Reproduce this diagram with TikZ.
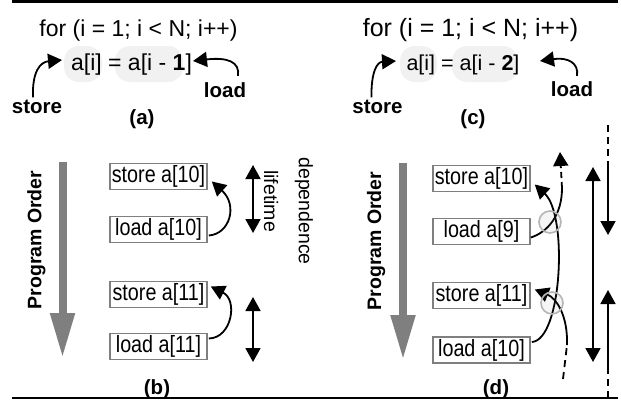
\documentclass[tikz,border=0pt]{standalone}
\usepackage{fontspec}
\setmainfont{Liberation Sans}
\newfontfamily\boxfont[FakeStretch=0.84]{Liberation Sans}
\usetikzlibrary{arrows.meta,calc}
\definecolor{boxgray}{HTML}{7F7F7F}
\definecolor{hlgray}{HTML}{F1F1F1}
\definecolor{ringgray}{HTML}{B5B5B5}
\begin{document}
\begin{tikzpicture}[x=1pt,y=-1pt,
  code/.style={font=\fontsize{23}{27}\selectfont, inner sep=0pt, anchor=base},
  lbl/.style={font=\bfseries\fontsize{20.5}{23}\selectfont, inner sep=0pt, anchor=base},
  plain/.style={font=\fontsize{19.5}{22}\selectfont, inner sep=0pt},
  instr/.style={draw=boxgray, line width=1.6pt, minimum width=97pt, minimum height=26pt, inner sep=0pt, font=\boxfont\fontsize{23.5}{26}\selectfont},
  conn/.style={line width=1.8pt, -{Triangle[length=14pt,width=15pt]}},
  life/.style={line width=1.8pt, {Triangle[length=14pt,width=15pt]}-{Triangle[length=14pt,width=15pt]}},
  porder/.style={line width=8pt, draw=boxgray, -{Triangle[length=45pt,width=23pt]}},
  blob/.style={fill=hlgray, rounded corners=15pt},
  ring/.style={draw=ringgray, line width=1.6pt, fill=gray, fill opacity=0.08},
  dashln/.style={line width=1.8pt, dash pattern=on 7pt off 5pt},
]
\useasboundingbox (0,0) rectangle (621,402);
% rules
\draw[line width=2.5pt] (12,1.5) -- (618,1.5);
\draw[line width=2pt] (12,398) -- (618,398);

% ---------- panel (a)
\fill[blob] (64,46) rectangle (102,82);
\fill[blob] (115,46) rectangle (183,82);
\node[code] (forA) at (138.5,36) {for (i = 1; i < N; i++)};
\node[code] (stmtA) at (131.5,70) {a[i] = a[i - \textbf{1}]};
\node[lbl] (storeA) at (37,113) {store};
\node[lbl] (loadA) at (225,97) {load};
\node[lbl] (capA) at (142,124) {(a)};
\coordinate (stA) at (62,60);
\coordinate (ldA) at (193,61);
\draw[conn] ($(storeA.north)+(-4,-2)$) .. controls (32,72) and (40,62) .. (stA);
\draw[conn] ($(loadA.north)+(13,-6)$) .. controls (240,62) and (228,57) .. (ldA);

% ---------- panel (c)
\fill[blob] (400,46) rectangle (437,82);
\fill[blob] (452,46) rectangle (518,82);
\node[code, font=\fontsize{25}{29}\selectfont] (forC) at (470.5,36) {for (i = 1; i < N; i++)};
\node[code, font=\fontsize{21.5}{26}\selectfont] (stmtC) at (463,70) {a[i] = a[i - \textbf{2}]};
\node[lbl] (storeC) at (377.5,113) {store};
\node[lbl] (loadC) at (572,96) {load};
\node[lbl] (capC) at (473,124) {(c)};
\coordinate (stC) at (396,61);
\coordinate (ldC) at (540,61);
\draw[conn] ($(storeC.north)+(-6,-2)$) .. controls (371,72) and (377,62) .. (stC);
\draw[conn] ($(loadC.north)+(5,-5)$) .. controls (579,63) and (568,57) .. (ldC);

% ---------- panel (b)
\node[lbl, font=\bfseries\fontsize{19.5}{22}\selectfont, rotate=90, anchor=center] (poB) at (36.5,240) {Program Order};
\coordinate (poBtop) at (62.5,162);
\coordinate (poBbot) at (62.5,358);
\draw[porder] (poBtop) -- (poBbot);
\node[instr] (s10b) at (158.5,176.5) {store a[10]};
\node[instr] (l10b) at (158.5,229.5) {load a[10]};
\node[instr] (s11b) at (158.5,294.5) {store a[11]};
\node[instr] (l11b) at (158.5,346.5) {load a[11]};
\draw[conn] ($(l10b.east)+(1,6)$) .. controls (230,234) and (238,205) .. ($(s10b.east)+(4,5)$);
\draw[conn] ($(l11b.east)+(1,-8)$) .. controls (232,338) and (238,300) .. ($(s11b.east)+(3,-8)$);
\coordinate (lt1a) at (253,165);
\coordinate (lt1b) at (253,233);
\coordinate (lt2a) at (253,297);
\coordinate (lt2b) at (253,362);
\draw[life] (lt1a) -- (lt1b);
\draw[life] (lt2a) -- (lt2b);
\node[plain, rotate=-90] (lifeT) at (271,201) {lifetime};
\node[plain, rotate=-90] (depT) at (304,211) {dependence};
\node[lbl] (capB) at (157,394) {(b)};

% ---------- panel (d)
\node[lbl, font=\bfseries\fontsize{19.5}{22}\selectfont, rotate=90, anchor=center] (poD) at (376,241) {Program Order};
\coordinate (poDtop) at (403,163);
\coordinate (poDbot) at (403,360);
\draw[porder] (poDtop) -- (poDbot);
\node[instr] (s10d) at (481.5,178.5) {store a[10]};
\node[instr] (l9d) at (481.5,231.5) {load a[9]};
\node[instr] (s11d) at (481.5,295.5) {store a[11]};
\node[instr] (l10d) at (481.5,350) {load a[10]};
\draw[conn] ($(l10d.east)+(1,-8)$) .. controls (562,340) and (568,215) .. ($(s10d.east)+(4,6)$);
\coordinate (d9end) at (562,188);
\coordinate (d9tip) at (560,152);
\draw[line width=1.8pt] ($(l9d.east)+(0,6)$) .. controls (548,232) and (562,215) .. (d9end);
\draw[conn, dash pattern=on 6pt off 4pt] (d9end) -- (d9tip);
\coordinate (d11low) at (563,379);
\coordinate (d11mid) at (567,345);
\draw[dashln] (d11low) -- (d11mid);
\draw[conn] (d11mid) .. controls (568,315) and (556,298) .. ($(s11d.east)+(4,-6)$);
\draw[ring] (550,222) circle[radius=11pt];
\draw[ring] (552,303) circle[radius=11pt];
\coordinate (bigA) at (593,167);
\coordinate (bigB) at (593,362);
\draw[life] (bigA) -- (bigB);
\coordinate (rTop) at (608,125);
\coordinate (rMid1) at (608,163);
\coordinate (rTip1) at (608,235);
\coordinate (rTip2) at (608,290);
\coordinate (rMid2) at (608,367);
\coordinate (rBot) at (608,398);
\draw[dashln] (rTop) -- (rMid1);
\draw[conn] (rMid1) -- (rTip1);
\draw[conn] (rMid2) -- (rTip2);
\draw[dashln] (rMid2) -- (rBot);
\node[lbl] (capD) at (496,394) {(d)};
\end{tikzpicture}
\end{document}
